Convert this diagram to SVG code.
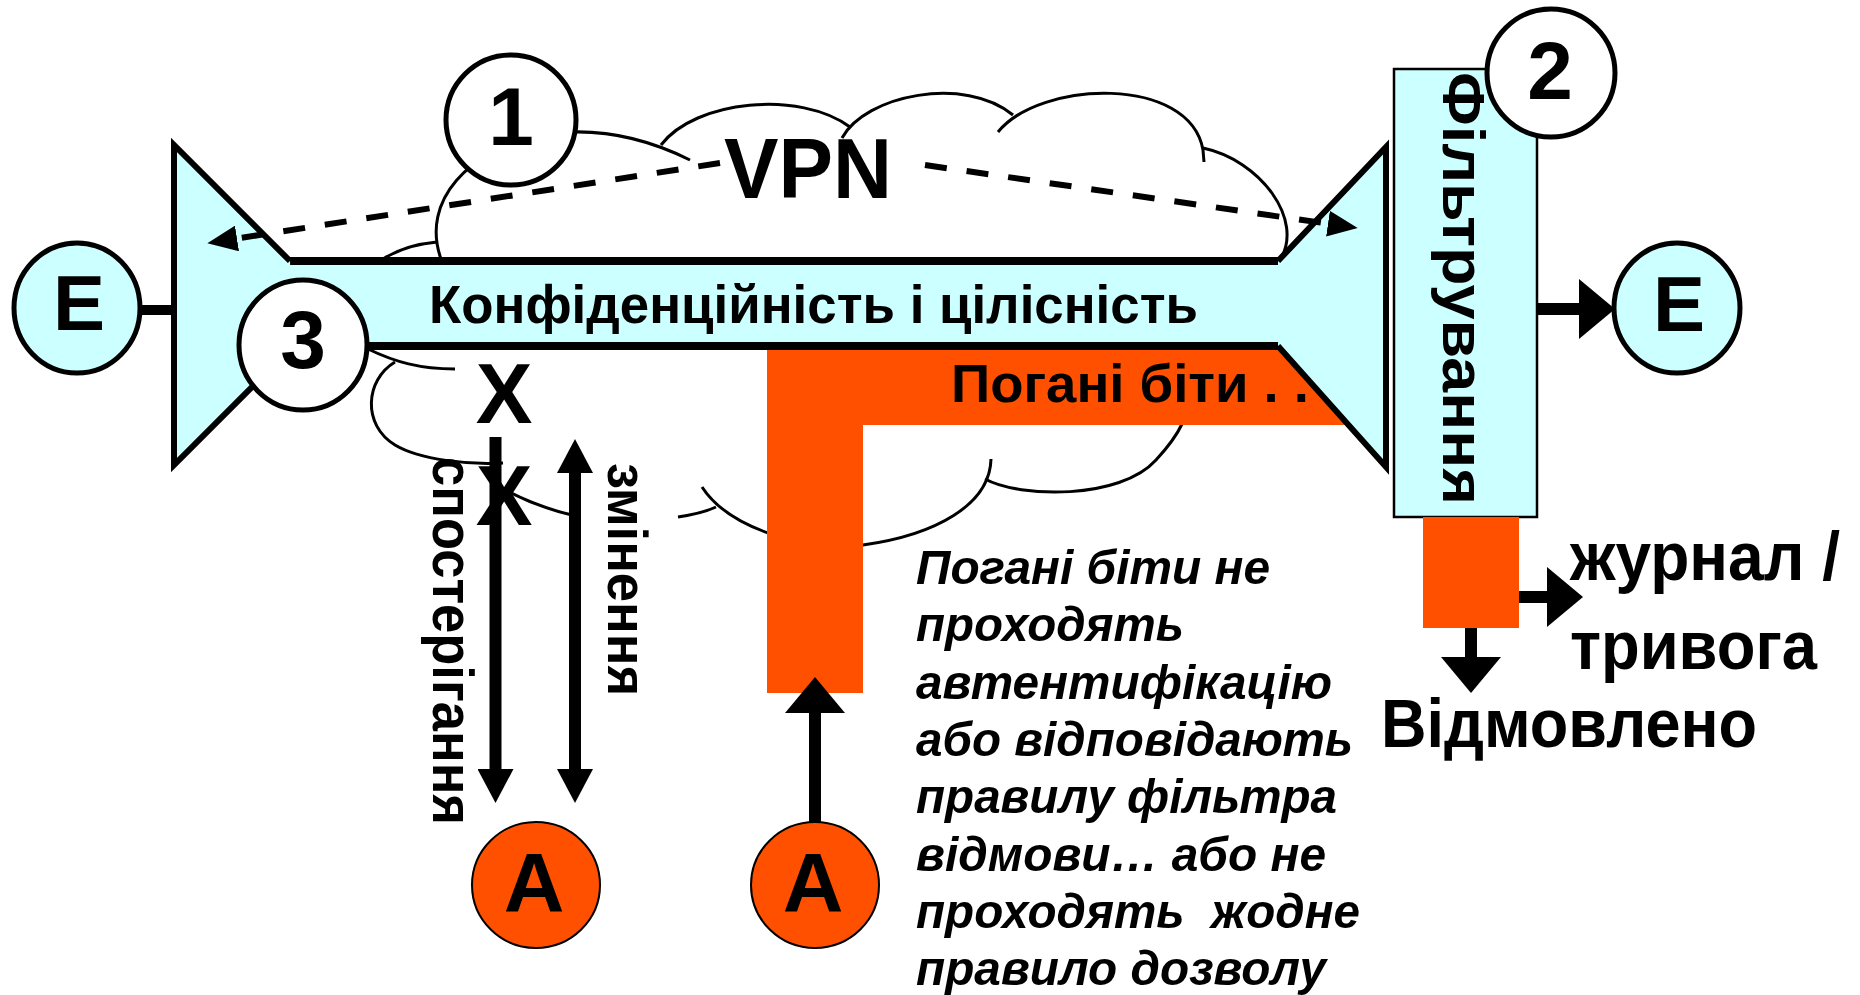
<svg xmlns="http://www.w3.org/2000/svg" width="1860" height="995" viewBox="0 0 1860 995">
<defs>
<style>
.cloud{fill:none;stroke:#000;stroke-width:3}
.cy{fill:#CCFFFF}
.or{fill:#FF5000}
.edge{fill:none;stroke:#000;stroke-width:6;stroke-linejoin:miter}
.bar{stroke:#000;stroke-width:8}
.t{font-family:"Liberation Sans",Arial,sans-serif;font-weight:bold;fill:#000}
.num{font-size:82px;text-anchor:middle}
.it{font-family:"Liberation Sans",Arial,sans-serif;font-weight:bold;font-style:italic;font-size:49px;fill:#000}
.ring{fill:#fff;stroke:#000;stroke-width:5}
.ering{fill:#CCFFFF;stroke:#000;stroke-width:5}
.aring{fill:#FF5000;stroke:#000;stroke-width:2}
.dash{fill:none;stroke:#000;stroke-width:6;stroke-dasharray:22 20}
.arr{fill:none;stroke:#000;stroke-width:12}
</style>
<marker id="dh" markerUnits="userSpaceOnUse" markerWidth="30" markerHeight="26" refX="0" refY="13" orient="auto"><path d="M0,0 L30,13 L0,26 z"/></marker>
<marker id="hs" markerUnits="userSpaceOnUse" markerWidth="34" markerHeight="36" refX="0" refY="18" orient="auto-start-reverse"><path d="M0,0 L34,18 L0,36 z"/></marker>
<marker id="hl" markerUnits="userSpaceOnUse" markerWidth="36" markerHeight="60" refX="0" refY="30" orient="auto"><path d="M0,0 L36,30 L0,60 z"/></marker>
</defs>
<rect width="1860" height="995" fill="#fff"/>

<g id="cloud" class="cloud">
<path d="M383,259 Q405,245 437,242"/>
<path d="M441,259 C420,200 470,150 540,135 C600,125 650,140 690,160"/>
<path d="M661,145 C695,100 800,90 850,127"/>
<path d="M842,138 C865,95 965,75 1013,115"/>
<path d="M998,132 C1040,80 1190,75 1203,150 L1204,162"/>
<path d="M1203,148 C1260,160 1305,220 1280,260"/>
<path d="M368,349 C395,362 420,369 455,369"/>
<path d="M395,362 C365,380 362,425 395,445 C420,460 470,465 503,463"/>
<path d="M505,490 C530,503 550,510 572,515"/>
<path d="M678,517 C693,515 705,512 716,507"/>
<path d="M702,487 C730,530 810,552 863,545 C935,535 990,505 991,459"/>
<path d="M985,479 C1020,498 1120,500 1156,460 C1168,447 1176,437 1182,424"/>
</g>

<g id="bad-bits-path">
<path class="or" d="M767,346 H1352 V425 H863 V693 H767 Z"/>
<text class="t" x="951" y="402" font-size="54" textLength="358" lengthAdjust="spacingAndGlyphs">Погані біти . .</text>
</g>

<g id="tunnel">
<rect class="cy" x="285" y="261" width="996" height="85"/>
<line class="bar" x1="288" y1="261" x2="1278" y2="261"/>
<line class="bar" x1="290" y1="346" x2="1278" y2="346"/>
<text class="t" x="429" y="323" font-size="54" textLength="769" lengthAdjust="spacingAndGlyphs">Конфіденційність і цілісність</text>
</g>

<g id="gateway-left">
<polygon class="cy" points="174,145 290,261 293,346 174,465"/>
<polyline class="edge" points="290,261 174,145 174,465 293,346"/>
</g>

<g id="gateway-right">
<polygon class="cy" points="1278,261 1386,147 1386,467 1278,346"/>
<polyline class="edge" points="1278,261 1386,147 1386,467 1278,346"/>
</g>

<g id="filter">
<rect class="cy" x="1394" y="69" width="143" height="448" stroke="#000" stroke-width="2.5"/>
<text class="t" transform="translate(1443,72) rotate(90)" font-size="60" textLength="433" lengthAdjust="spacingAndGlyphs">Фільтрування</text>
</g>

<g id="reject-box">
<rect class="or" x="1423" y="517" width="96" height="111"/>
</g>

<g id="vpn-label">
<text class="t" x="724" y="198" font-size="85" textLength="168" lengthAdjust="spacingAndGlyphs">VPN</text>
</g>

<g id="badge-1">
<circle class="ring" cx="511" cy="120" r="65"/>
<text class="t num" x="511" y="145">1</text>
</g>
<g id="badge-2">
<circle class="ring" cx="1551" cy="73" r="64"/>
<text class="t num" x="1550" y="99">2</text>
</g>
<g id="badge-3">
<ellipse class="ring" cx="303" cy="345" rx="64" ry="65"/>
<text class="t num" x="303" y="368">3</text>
</g>

<g id="endpoint-left">
<ellipse class="ering" cx="77" cy="308" rx="63" ry="65"/>
<text class="t" x="79" y="330" font-size="78" text-anchor="middle">E</text>
</g>
<g id="endpoint-right">
<ellipse class="ering" cx="1677" cy="308" rx="63" ry="65"/>
<text class="t" x="1679" y="331" font-size="78" text-anchor="middle">E</text>
</g>

<g id="attacker-left">
<ellipse class="aring" cx="536" cy="885" rx="64" ry="63"/>
<text class="t" x="534" y="912" font-size="84" text-anchor="middle">A</text>
</g>
<g id="attacker-right">
<ellipse class="aring" cx="815" cy="885" rx="64" ry="63"/>
<text class="t" x="813" y="912" font-size="84" text-anchor="middle">A</text>
</g>

<g id="blocks">
<text class="t" x="504" y="423" font-size="85" text-anchor="middle">X</text>
<text class="t" x="504" y="525" font-size="85" text-anchor="middle">X</text>
</g>

<g id="connectors">
<line x1="140" y1="310" x2="174" y2="310" stroke="#000" stroke-width="10"/>
<line class="dash" x1="720" y1="163" x2="237" y2="238.5" marker-end="url(#dh)"/>
<line class="dash" x1="925" y1="165" x2="1328" y2="223.7" marker-end="url(#dh)"/>
<line class="arr" x1="495.5" y1="437" x2="495.5" y2="769" marker-end="url(#hs)"/>
<line class="arr" x1="575" y1="473" x2="575" y2="769" marker-start="url(#hs)" marker-end="url(#hs)"/>
<line class="arr" x1="815" y1="822" x2="815" y2="713" marker-end="url(#hl)"/>
<line class="arr" x1="1537" y1="309" x2="1579" y2="309" marker-end="url(#hl)"/>
<line class="arr" x1="1519" y1="597" x2="1547" y2="597" marker-end="url(#hl)"/>
<line class="arr" x1="1471" y1="628" x2="1471" y2="657" marker-end="url(#hl)"/>
</g>

<g id="arrow-labels">
<text class="t" transform="translate(433,457) rotate(90)" font-size="57" textLength="368" lengthAdjust="spacingAndGlyphs">спостерігання</text>
<text class="t" transform="translate(608,463) rotate(90)" font-size="56" textLength="233" lengthAdjust="spacingAndGlyphs">змінення</text>
</g>

<g id="outcomes">
<text class="t" x="1570" y="580" font-size="68" textLength="270" lengthAdjust="spacingAndGlyphs">журнал /</text>
<text class="t" x="1570" y="669" font-size="68" textLength="247" lengthAdjust="spacingAndGlyphs">тривога</text>
<text class="t" x="1381" y="747" font-size="68" textLength="376" lengthAdjust="spacingAndGlyphs">Відмовлено</text>
</g>

<g id="note">
<text class="it" x="916" y="584" textLength="354" lengthAdjust="spacingAndGlyphs">Погані біти не</text>
<text class="it" x="916" y="641" textLength="268" lengthAdjust="spacingAndGlyphs">проходять</text>
<text class="it" x="916" y="699" textLength="416" lengthAdjust="spacingAndGlyphs">автентифікацію</text>
<text class="it" x="916" y="756" textLength="437" lengthAdjust="spacingAndGlyphs">або відповідають</text>
<text class="it" x="916" y="813" textLength="421" lengthAdjust="spacingAndGlyphs">правилу фільтра</text>
<text class="it" x="916" y="871" textLength="410" lengthAdjust="spacingAndGlyphs">відмови… або не</text>
<text class="it" x="916" y="928" textLength="444" lengthAdjust="spacingAndGlyphs" xml:space="preserve">проходять  жодне</text>
<text class="it" x="916" y="985" textLength="410" lengthAdjust="spacingAndGlyphs">правило дозволу</text>
</g>
</svg>
